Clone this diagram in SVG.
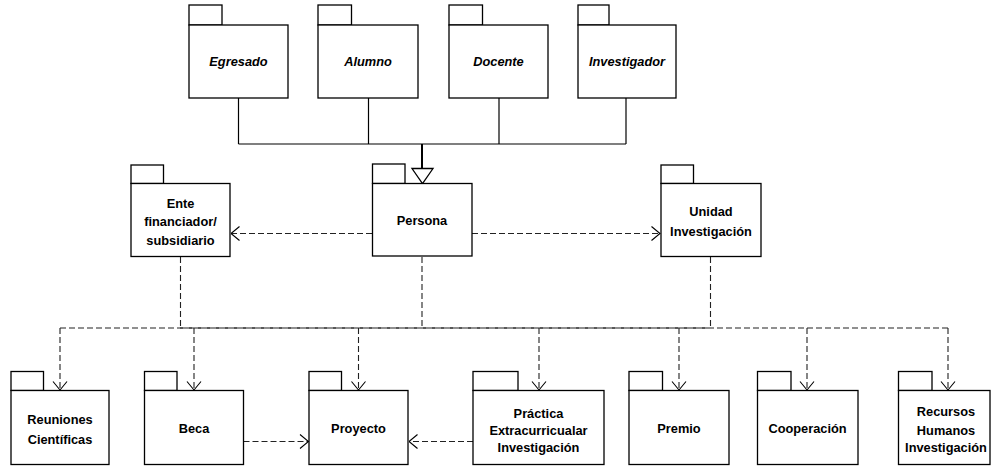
<svg xmlns="http://www.w3.org/2000/svg" width="992" height="466" viewBox="0 0 992 466">
<style>
.pkg{fill:#fff;stroke:#000;stroke-width:1.3}
.t{font-family:"Liberation Sans",Arial,sans-serif;font-size:12.8px;font-weight:bold;text-anchor:middle;fill:#000}
.i{font-style:italic}
.solid{fill:none;stroke:#000;stroke-width:1.2}
.dash{fill:none;stroke:#222;stroke-width:1.1;stroke-dasharray:6,3}
</style>
<defs>
<marker id="open" viewBox="0 0 10 16" refX="9.5" refY="8" markerWidth="10" markerHeight="16" markerUnits="userSpaceOnUse" orient="auto">
<path d="M1,1 L9.5,8 L1,15" fill="none" stroke="#000" stroke-width="1.1"/>
</marker>
</defs>
<rect width="992" height="466" fill="#fff"/>
<g id="connectors">
<line class="solid" x1="238.5" y1="98" x2="238.5" y2="144"/>
<line class="solid" x1="368.5" y1="98" x2="368.5" y2="144"/>
<line class="solid" x1="499" y1="98" x2="499" y2="144"/>
<line class="solid" x1="626" y1="98" x2="626" y2="144"/>
<line class="solid" x1="238.5" y1="144" x2="626" y2="144"/>
<line x1="422" y1="144" x2="422" y2="168.5" stroke="#000" stroke-width="2"/>
<polygon points="412,168.5 433,168.5 422.5,183.5" fill="#fff" stroke="#000" stroke-width="1.3"/>
<line class="dash" x1="372" y1="233.5" x2="231" y2="233.5" marker-end="url(#open)"/>
<line class="dash" x1="472" y1="233.5" x2="660" y2="233.5" marker-end="url(#open)"/>
<line class="dash" x1="180.5" y1="257" x2="180.5" y2="328"/>
<line class="dash" x1="422" y1="257" x2="422" y2="328"/>
<line class="dash" x1="710.5" y1="257" x2="710.5" y2="328"/>
<line class="dash" x1="60" y1="328" x2="948" y2="328"/>
<line class="dash" x1="180" y1="328" x2="710" y2="328" stroke-width="1.6" stroke="#000"/>
<line class="dash" x1="60" y1="328" x2="60" y2="390" marker-end="url(#open)"/>
<line class="dash" x1="194" y1="328" x2="194" y2="390" marker-end="url(#open)"/>
<line class="dash" x1="358.5" y1="328" x2="358.5" y2="390" marker-end="url(#open)"/>
<line class="dash" x1="539" y1="328" x2="539" y2="390" marker-end="url(#open)"/>
<line class="dash" x1="679" y1="328" x2="679" y2="390" marker-end="url(#open)"/>
<line class="dash" x1="807" y1="328" x2="807" y2="390" marker-end="url(#open)"/>
<line class="dash" x1="948" y1="328" x2="948" y2="390" marker-end="url(#open)"/>
<line class="dash" x1="243.5" y1="441.5" x2="308.5" y2="441.5" marker-end="url(#open)"/>
<line class="dash" x1="473" y1="441.5" x2="409" y2="441.5" marker-end="url(#open)"/>
</g>
<g id="egresado"><rect class="pkg" x="189" y="5" width="33" height="20"/><rect class="pkg" x="189" y="25" width="99" height="73"/><text class="t i" x="238.5" y="66">Egresado</text></g>
<g id="alumno"><rect class="pkg" x="318" y="5" width="33.5" height="20"/><rect class="pkg" x="318" y="25" width="100" height="73"/><text class="t i" x="368" y="66">Alumno</text></g>
<g id="docente"><rect class="pkg" x="449" y="5" width="33.5" height="20"/><rect class="pkg" x="449" y="25" width="99" height="73"/><text class="t i" x="498.5" y="66">Docente</text></g>
<g id="investigador"><rect class="pkg" x="578" y="5" width="31" height="20"/><rect class="pkg" x="578" y="25" width="98" height="73"/><text class="t i" x="627" y="66">Investigador</text></g>
<g id="ente"><rect class="pkg" x="131" y="165" width="32.5" height="18.5"/><rect class="pkg" x="131" y="183.5" width="99" height="73"/><text class="t" x="180.5" y="207.5">Ente</text><text class="t" x="180.5" y="226">financiador/</text><text class="t" x="180.5" y="244.5">subsidiario</text></g>
<g id="persona"><rect class="pkg" x="372.5" y="164" width="32.5" height="19.5"/><rect class="pkg" x="372.5" y="183.5" width="99.5" height="72.5"/><text class="t" x="422" y="225">Persona</text></g>
<g id="unidad"><rect class="pkg" x="661" y="165" width="32.5" height="18.5"/><rect class="pkg" x="661" y="183.5" width="100" height="73"/><text class="t" x="711" y="216">Unidad</text><text class="t" x="711" y="235.5">Investigación</text></g>
<g id="reuniones"><rect class="pkg" x="11" y="371.5" width="32.5" height="19"/><rect class="pkg" x="11" y="390.5" width="98" height="74"/><text class="t" x="60" y="424">Reuniones</text><text class="t" x="60" y="443.5">Científicas</text></g>
<g id="beca"><rect class="pkg" x="144.5" y="371.5" width="32.5" height="19"/><rect class="pkg" x="144.5" y="390.5" width="99" height="74"/><text class="t" x="194" y="433">Beca</text></g>
<g id="proyecto"><rect class="pkg" x="309" y="371.5" width="32.5" height="19"/><rect class="pkg" x="309" y="390.5" width="99" height="74"/><text class="t" x="358.5" y="433">Proyecto</text></g>
<g id="practica"><rect class="pkg" x="473" y="371.5" width="45" height="19"/><rect class="pkg" x="473" y="390.5" width="131" height="74"/><text class="t" x="538.5" y="417.5">Práctica</text><text class="t" x="538.5" y="434.5">Extracurricualar</text><text class="t" x="538.5" y="452">Investigación</text></g>
<g id="premio"><rect class="pkg" x="629" y="371.5" width="33.5" height="19"/><rect class="pkg" x="629" y="390.5" width="100" height="74"/><text class="t" x="679" y="433">Premio</text></g>
<g id="cooperacion"><rect class="pkg" x="757.5" y="371.5" width="33.5" height="19"/><rect class="pkg" x="757.5" y="390.5" width="100.5" height="74"/><text class="t" x="807.5" y="433">Cooperación</text></g>
<g id="recursos"><rect class="pkg" x="898.5" y="371.5" width="33.5" height="19"/><rect class="pkg" x="898.5" y="390.5" width="91.5" height="74"/><text class="t" x="946" y="416">Recursos</text><text class="t" x="946" y="434.5">Humanos</text><text class="t" x="946" y="452">Investigación</text></g>
</svg>
